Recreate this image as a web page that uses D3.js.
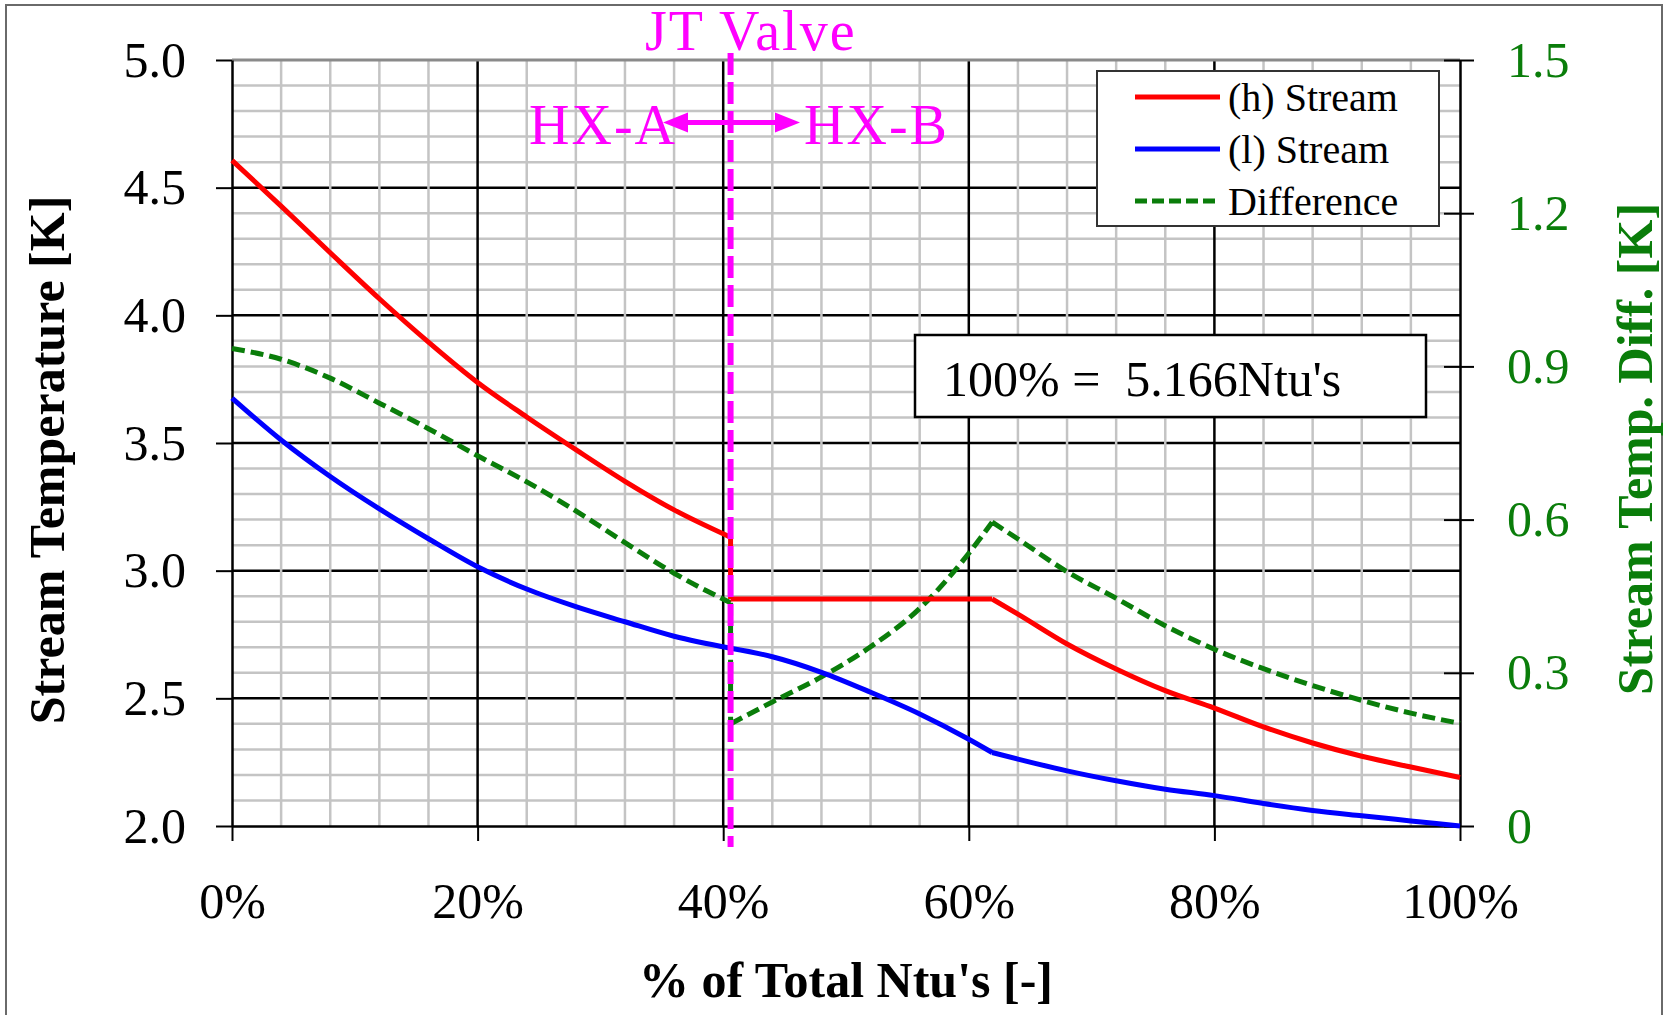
<!DOCTYPE html>
<html>
<head>
<meta charset="utf-8">
<script src="https://cdn.jsdelivr.net/npm/d3@7"></script>
<style>
  html, body { margin: 0; padding: 0; background: #fff; }
  svg { display: block; }
  text { font-family: "Liberation Serif", "Times New Roman", serif; }
</style>
</head>
<body>
<svg id="chart" width="1671" height="1015"></svg>
<script>
// Position along the exchanger, % of total Ntu's (JT valve sits at 40.6 %)
const xPct = [0, 4, 8, 12, 16, 20, 24, 28, 32, 36, 40.6,
              40.6, 44, 48, 52, 56, 60, 61.9, 64, 68, 72, 76, 80, 84, 88, 92, 96, 100];
// (h) stream temperature [K]
const hStream = [4.607, 4.428, 4.245, 4.065, 3.895, 3.737, 3.602, 3.474, 3.350, 3.238, 3.131,
                 2.889, 2.889, 2.889, 2.889, 2.889, 2.889, 2.889, 2.830, 2.713, 2.615, 2.530, 2.462, 2.388, 2.325, 2.273, 2.231, 2.190];
// (l) stream temperature [K]
const lStream = [3.676, 3.512, 3.369, 3.242, 3.125, 3.015, 2.928, 2.859, 2.800, 2.743, 2.696,
                 2.696, 2.663, 2.602, 2.524, 2.439, 2.340, 2.288, 2.262, 2.216, 2.177, 2.144, 2.119, 2.088, 2.061, 2.040, 2.020, 2.000];
// Stream temperature difference [K] (right axis)
const diffK = [0.935, 0.914, 0.877, 0.828, 0.778, 0.725, 0.674, 0.617, 0.555, 0.495, 0.437,
               0.200, 0.243, 0.292, 0.351, 0.426, 0.534, 0.595, 0.562, 0.498, 0.446, 0.392, 0.346, 0.308, 0.275, 0.246, 0.221, 0.201];

const pctTicks = [0, 20, 40, 60, 80, 100];
const tempTicks = [2.0, 2.5, 3.0, 3.5, 4.0, 4.5, 5.0];
const diffTicks = [0, 0.3, 0.6, 0.9, 1.2, 1.5];
const jtValvePct = 40.6;
const legendLabels = ["(h) Stream", "(l) Stream", "Difference"];
const totalNtuLabel = "100% =  5.166Ntu's";

const svg = d3.select("#chart");
const L = 232, R = 1460, T = 60, B = 826;

const x = d3.scaleLinear().domain([0, 100]).range([L, R]);
const yT = d3.scaleLinear().domain([2, 5]).range([B, T]);
const yD = d3.scaleLinear().domain([0, 1.5]).range([B, T]);

const RED = "#ff0000", BLUE = "#0000ff", GREEN = "#0a7d0a", MAGENTA = "#ff00ff";

// outer frame
svg.append("rect").attr("x", 6).attr("y", 5).attr("width", 1656).attr("height", 1040)
  .attr("fill", "#fff").attr("stroke", "#6a6a6a").attr("stroke-width", 2);

// grid
const grid = svg.append("g");
const minorY = d3.range(2.0, 5.001, 0.1).filter(v => Math.abs(v * 2 - Math.round(v * 2)) > 1e-6);
const minorX = d3.range(0, 100.001, 4).filter(v => v % 20 !== 0);
grid.selectAll(".hmin").data(minorY).join("line")
  .attr("x1", L).attr("x2", R).attr("y1", d => yT(d)).attr("y2", d => yT(d))
  .attr("stroke", "#c4c4c4").attr("stroke-width", 2.5);
grid.selectAll(".hmaj").data(tempTicks.filter(v => v > 2 && v < 5)).join("line")
  .attr("x1", L).attr("x2", R).attr("y1", d => yT(d)).attr("y2", d => yT(d))
  .attr("stroke", "#000").attr("stroke-width", 2.5);
grid.selectAll(".vmin").data(minorX).join("line")
  .attr("y1", T).attr("y2", B).attr("x1", d => x(d)).attr("x2", d => x(d))
  .attr("stroke", "#c4c4c4").attr("stroke-width", 2.5);
grid.selectAll(".vmaj").data(pctTicks.filter(v => v > 0 && v < 100)).join("line")
  .attr("y1", T).attr("y2", B).attr("x1", d => x(d)).attr("x2", d => x(d))
  .attr("stroke", "#000").attr("stroke-width", 2.5);
// top border of plot area
grid.append("line").attr("x1", L).attr("x2", R).attr("y1", T).attr("y2", T)
  .attr("stroke", "#8a8a8a").attr("stroke-width", 3);

// axes
function styleAxis(g, color) {
  g.select(".domain").attr("stroke", "#000").attr("stroke-width", 2.5);
  g.selectAll(".tick line").attr("stroke", "#000").attr("stroke-width", 2);
  g.selectAll(".tick text").attr("font-size", 50).attr("fill", color)
    .attr("font-family", "'Liberation Serif', 'Times New Roman', serif");
}
const gl = svg.append("g").attr("transform", `translate(${L},0)`)
  .call(d3.axisLeft(yT).tickValues(tempTicks).tickSize(16).tickPadding(30)
        .tickSizeOuter(0).tickFormat(d3.format(".1f")));
styleAxis(gl, "#000");

const gb = svg.append("g").attr("transform", `translate(0,${B})`)
  .call(d3.axisBottom(x).tickValues(pctTicks).tickSize(15).tickPadding(41)
        .tickSizeOuter(0).tickFormat(d => d + "%"));
styleAxis(gb, "#000");

const gr = svg.append("g").attr("transform", `translate(${R},0)`)
  .call(d3.axisRight(yD).tickValues(diffTicks).tickSize(14).tickPadding(33)
        .tickSizeOuter(0).tickFormat(d => d === 0 ? "0" : d3.format(".1f")(d)));
styleAxis(gr, GREEN);
gr.selectAll(".tick line").attr("x1", -16);

// axis titles
svg.append("text").attr("transform", "translate(64,460) rotate(-90)")
  .attr("text-anchor", "middle").attr("font-size", 50).attr("font-weight", "bold")
  .attr("fill", "#000").text("Stream Temperature [K]");
svg.append("text").attr("transform", "translate(1652,449) rotate(-90)")
  .attr("text-anchor", "middle").attr("font-size", 50).attr("font-weight", "bold")
  .attr("fill", GREEN).text("Stream Temp. Diff. [K]");
svg.append("text").attr("x", (L + R) / 2).attr("y", 997)
  .attr("text-anchor", "middle").attr("font-size", 50).attr("font-weight", "bold")
  .attr("fill", "#000").text("% of Total Ntu's [-]");

// total Ntu box
svg.append("rect").attr("x", 915).attr("y", 335).attr("width", 511).attr("height", 82)
  .attr("fill", "#fff").attr("stroke", "#000").attr("stroke-width", 2.5);
svg.append("text").attr("x", 943).attr("y", 396).attr("font-size", 50)
  .style("white-space", "pre").attr("fill", "#000").text(totalNtuLabel);

// data series
const rows = xPct.map((p, i) => ({ p, h: hStream[i], l: lStream[i], d: diffK[i] }));
// pieces: HX-A run, the jump across the valve, HX-B up to the kink, HX-B after the kink
const pieces = [[0, 10, d3.curveMonotoneX], [10, 11, d3.curveLinear],
                [11, 17, d3.curveMonotoneX], [17, rows.length - 1, d3.curveMonotoneX]];
function seriesPath(yScale, key) {
  return pieces.map(([a, b, c]) =>
    d3.line().curve(c).x(d => x(d.p)).y(d => yScale(d[key]))(rows.slice(a, b + 1))
  ).join("");
}

svg.append("path").attr("d", seriesPath(yD, "d"))
  .attr("fill", "none").attr("stroke", GREEN).attr("stroke-width", 5)
  .attr("stroke-dasharray", "13,6");
svg.append("path").attr("d", seriesPath(yT, "l"))
  .attr("fill", "none").attr("stroke", BLUE).attr("stroke-width", 5)
  .attr("stroke-linejoin", "round");
svg.append("path").attr("d", seriesPath(yT, "h"))
  .attr("fill", "none").attr("stroke", RED).attr("stroke-width", 5)
  .attr("stroke-linejoin", "round");

// legend
const lg = svg.append("g");
lg.append("rect").attr("x", 1097).attr("y", 71).attr("width", 342).attr("height", 155)
  .attr("fill", "#fff").attr("stroke", "#333").attr("stroke-width", 2);
const legendStyles = [
  { color: RED, dash: null, w: 5 },
  { color: BLUE, dash: null, w: 5 },
  { color: GREEN, dash: "12,5", w: 5 }
];
legendLabels.forEach((lab, i) => {
  const yy = 97 + i * 52;
  lg.append("line").attr("x1", 1135).attr("x2", 1220).attr("y1", yy).attr("y2", yy)
    .attr("stroke", legendStyles[i].color).attr("stroke-width", legendStyles[i].w)
    .attr("stroke-dasharray", legendStyles[i].dash);
  lg.append("text").attr("x", 1228).attr("y", yy + 14).attr("font-size", 40)
    .attr("fill", "#000").text(lab);
});

// JT valve marker and labels
const xj = x(jtValvePct);
svg.append("line").attr("x1", xj).attr("x2", xj).attr("y1", 53).attr("y2", 847)
  .attr("stroke", MAGENTA).attr("stroke-width", 6).attr("stroke-dasharray", "22,7");
svg.append("text").attr("x", 645).attr("y", 50).attr("font-size", 56)
  .attr("letter-spacing", 2).attr("fill", MAGENTA).text("JT Valve");
svg.append("text").attr("x", 529).attr("y", 144).attr("font-size", 56)
  .attr("letter-spacing", 2).attr("fill", MAGENTA).text("HX-A");
svg.append("text").attr("x", 804).attr("y", 144).attr("font-size", 56)
  .attr("letter-spacing", 2).attr("fill", MAGENTA).text("HX-B");

// double-headed arrow
const ay = 122.5;
svg.append("line").attr("x1", 680).attr("x2", 785).attr("y1", ay).attr("y2", ay)
  .attr("stroke", MAGENTA).attr("stroke-width", 5);
svg.append("path").attr("d", `M663,${ay} L688,${ay - 10} L688,${ay + 10} Z`).attr("fill", MAGENTA);
svg.append("path").attr("d", `M800,${ay} L775,${ay - 10} L775,${ay + 10} Z`).attr("fill", MAGENTA);
</script>
</body>
</html>
